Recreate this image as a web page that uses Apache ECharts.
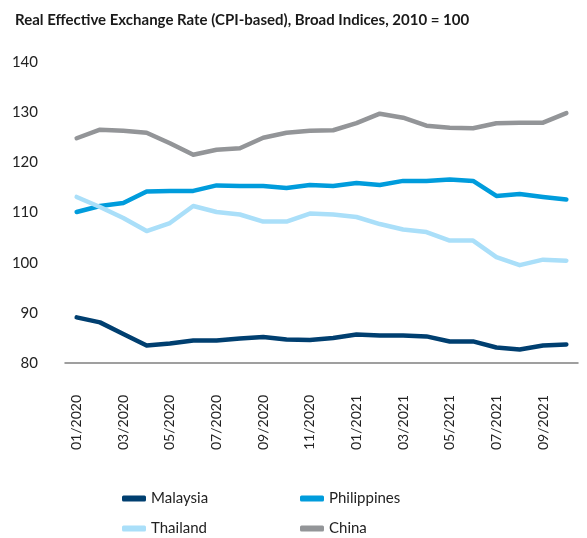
<!DOCTYPE html>
<html>
<head>
<meta charset="utf-8">
<script src="https://cdn.jsdelivr.net/npm/echarts@6/dist/echarts.min.js"></script>
<style>
  html, body { margin: 0; padding: 0; background: #fff; }
  #grafica { width: 587px; height: 538px; }
</style>
</head>
<body>
<div id="grafica"></div>
<script>
const months = [
  "01/2020", "02/2020", "03/2020", "04/2020", "05/2020", "06/2020",
  "07/2020", "08/2020", "09/2020", "10/2020", "11/2020", "12/2020",
  "01/2021", "02/2021", "03/2021", "04/2021", "05/2021", "06/2021",
  "07/2021", "08/2021", "09/2021", "10/2021"
];
const malaysia = [89.1, 88.1, 85.8, 83.5, 83.9, 84.5, 84.5, 84.9, 85.2, 84.7, 84.6, 85.0,
  85.7, 85.5, 85.5, 85.3, 84.3, 84.3, 83.1, 82.7, 83.5, 83.7];
const philippines = [110.1, 111.3, 111.9, 114.2, 114.3, 114.3, 115.4, 115.3, 115.3, 114.9, 115.5, 115.3,
  115.9, 115.5, 116.3, 116.3, 116.6, 116.3, 113.3, 113.7, 113.1, 112.6];
const thailand = [113.1, 111.1, 108.9, 106.3, 107.9, 111.3, 110.1, 109.6, 108.2, 108.2, 109.8, 109.6,
  109.1, 107.7, 106.6, 106.1, 104.4, 104.4, 101.1, 99.5, 100.6, 100.4];
const china = [124.8, 126.5, 126.3, 125.9, 123.8, 121.5, 122.5, 122.8, 124.9, 125.9, 126.3, 126.4,
  127.8, 129.7, 128.9, 127.3, 126.9, 126.8, 127.8, 127.9, 127.9, 129.8];

const font = "Lato, 'Open Sans', sans-serif";

const linea = (name, data, color) => ({
  name: name,
  type: "line",
  data: data,
  symbol: "none",
  smooth: false,
  lineStyle: { width: 4.5, color: color, cap: "round", join: "round" },
  itemStyle: { color: color },
});

// una leyenda por serie, en cuadricula de 2x2
const leyenda = (name, left, top) => ({
  data: [name],
  left: left,
  top: top,
  itemWidth: 24,
  itemHeight: 6,
  itemGap: 0,
  icon: "roundRect",
  textStyle: { fontFamily: font, fontSize: 15, color: "#222" },
});

const chart = echarts.init(document.querySelector("#grafica"));
chart.setOption({
  animation: false,
  title: {
    text: "Real Effective Exchange Rate (CPI-based), Broad Indices, 2010 = 100",
    left: 10,
    top: 8,
    textStyle: { fontFamily: font, fontSize: 15, fontWeight: "bold", color: "#1a1a1a" },
  },
  legend: [
    leyenda("Malaysia", 117, 486),
    leyenda("Philippines", 295, 486),
    leyenda("Thailand", 117, 516),
    leyenda("China", 295, 516),
  ],
  grid: { left: 65, right: 9, top: 62, bottom: 175 },
  xAxis: {
    type: "category",
    data: months,
    boundaryGap: true,
    axisLine: { lineStyle: { color: "#808080", width: 1.5 } },
    axisTick: { show: false },
    axisLabel: {
      interval: 1,
      rotate: 90,
      margin: 32,
      fontFamily: font,
      fontSize: 14,
      color: "#222",
    },
  },
  yAxis: {
    type: "value",
    min: 80,
    max: 140,
    interval: 10,
    axisLine: { show: false },
    axisTick: { show: false },
    splitLine: { show: false },
    axisLabel: { margin: 27, fontFamily: font, fontSize: 15, color: "#222" },
  },
  series: [
    linea("Malaysia", malaysia, "#003f70"),
    linea("Philippines", philippines, "#009cdc"),
    linea("Thailand", thailand, "#aadff9"),
    linea("China", china, "#939598"),
  ],
});
</script>
</body>
</html>
